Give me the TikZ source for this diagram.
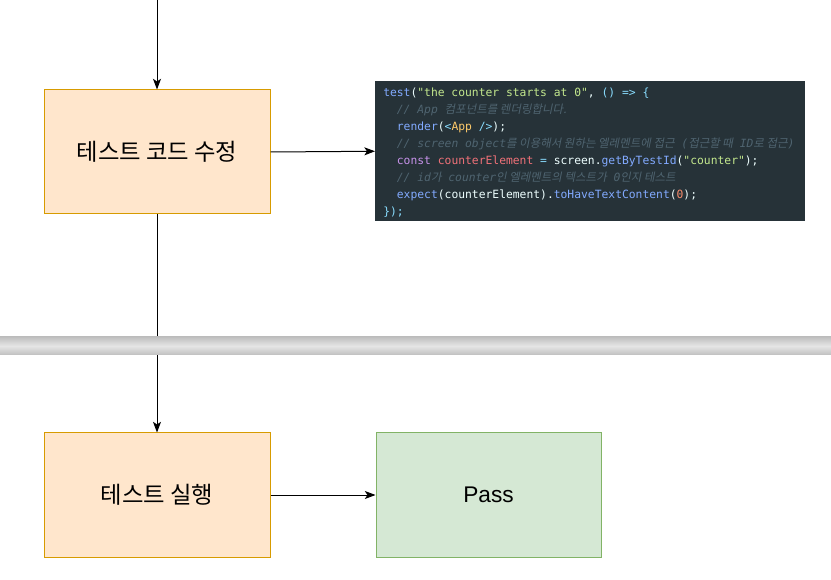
\documentclass[tikz,border=0pt]{standalone}
\usepackage{fontspec}
\setmainfont{Liberation Sans}
\setmonofont{DejaVu Sans Mono}
\newfontfamily\kofont{Noto Sans CJK KR}
\newfontfamily\koit[FakeSlant=0.2]{Noto Sans CJK KR}
\usetikzlibrary{arrows.meta}
\definecolor{codebg}{HTML}{263238}
\definecolor{cblue}{HTML}{82AAFF}
\definecolor{cgreen}{HTML}{C3E88D}
\definecolor{ccyan}{HTML}{89DDFF}
\definecolor{cgray}{HTML}{4F6470}
\definecolor{cpurple}{HTML}{C792EA}
\definecolor{cred}{HTML}{F07178}
\definecolor{cyellow}{HTML}{FFCB6B}
\definecolor{corange}{HTML}{F78C6C}
\definecolor{cwhite}{HTML}{EEFFFF}
\definecolor{orangefill}{HTML}{FFE6CC}
\definecolor{orangeline}{HTML}{D79B00}
\definecolor{greenfill}{HTML}{D5E8D4}
\definecolor{greenline}{HTML}{82B366}
\newcommand{\ck}[2]{\textcolor{#1}{#2}}
\newcommand{\cmt}[1]{\textcolor{cgray}{\itshape #1}}
\newcommand{\krc}[1]{{\koit\fontsize{8.6}{12.75}\selectfont #1}}

\begin{document}
\begin{tikzpicture}
[   x=0.75pt, y=-0.75pt,
    stepbox/.style={rectangle, draw=orangeline, fill=orangefill, line width=0.75pt,
        minimum width=226*0.75pt, minimum height=124*0.75pt, inner sep=0,
        font=\kofont\fontsize{17.5}{20}\selectfont},
    passbox/.style={rectangle, draw=greenline, fill=greenfill, line width=0.75pt,
        minimum width=225*0.75pt, minimum height=124*0.75pt, inner sep=0,
        font=\fontsize{17}{20}\selectfont},
    codetext/.style={anchor=north west, inner sep=0, align=left, text=cwhite,
        font=\ttfamily\fontsize{8.5}{12.75}\selectfont},
    flow/.style={-{Stealth[length=8pt,width=6pt,inset=2pt]}, line width=0.75pt}
]
    \useasboundingbox (0,0) rectangle (831,580);

    \coordinate (top) at (157,0);
    \node[stepbox] (fix) at (157,152) {테스트 코드 수정};
    \node[stepbox] (run) at (157,495) {테스트 실행};
    \node[passbox] (pass) at (488.5,495) {Pass};

    % code snippet
    \node[fill=codebg, minimum width=430*0.75pt, minimum height=140*0.75pt,
        inner sep=0, anchor=north west] (code) at (375,81) {};
    \node[codetext] (snippet) at (383,88)
    {\ck{cblue}{test}(\ck{cgreen}{"the counter starts at 0"}, \ck{ccyan}{() => \{}\\
    \ \ \cmt{// App \krc{컴포넌트를 렌더링합니다.}}\\
    \ \ \ck{cblue}{render}(\ck{ccyan}{<}\ck{cyellow}{App} \ck{ccyan}{/>});\\
    \ \ \cmt{// screen object\krc{를 이용해서 원하는 엘레멘트에 접근} (\krc{접근할 때} ID\krc{로 접근})}\\
    \ \ \ck{cpurple}{const} \ck{cred}{counterElement} \ck{ccyan}{=} screen.\ck{cblue}{getByTestId}(\ck{cgreen}{"counter"});\\
    \ \ \cmt{// id\krc{가} counter\krc{인 엘레멘트의 텍스트가} 0\krc{인지 테스트}}\\
    \ \ \ck{cblue}{expect}(counterElement).\ck{cblue}{toHaveTextContent}(\ck{corange}{0});\\
    \ck{ccyan}{\});}};

    \draw[flow] (top) -- (fix.north);
    \draw[flow] (fix.east) -- (code.west);
    \draw[flow] (fix.south) -- (run.north);
    \draw[flow] (run.east) -- (pass.west);

    % page break band
    \shade[top color=black!25, bottom color=black!25, middle color=black!10]
        (0,337) rectangle (831,355);
\end{tikzpicture}
\end{document}
